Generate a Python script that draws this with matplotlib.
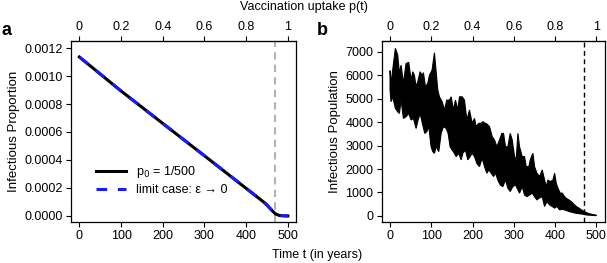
import matplotlib
matplotlib.use("Agg")
import matplotlib.pyplot as plt

plt.rcParams['font.family'] = ['Liberation Sans', 'DejaVu Sans']
plt.rcParams['font.size'] = 9

# ---------------------------------------------------------------------------
# datos
# ---------------------------------------------------------------------------
# panel a: proporcion infecciosa (deterministico)
t_a = [0, 100, 200, 300, 400, 440, 450, 460, 470, 480, 490, 500]
prop_a = [0.001136, 0.000893, 0.000661, 0.000430, 0.000197, 0.000104,
          0.000078, 0.000045, 0.000015, 0.000003, 0.000001, 0.0]

# panel b: poblacion infecciosa (estocastico), picos superiores e inferiores
t_sup = [0, 2.4, 12.9, 18.6, 22.7, 26.7, 32.4, 38.8, 45.3, 51, 55, 59, 63.1,
         67.2, 72.8, 77.7, 80.9, 85.8, 91.4, 95.5, 101.9, 107.6, 111.7, 115.7,
         119.7, 126.2, 131.9, 137.5, 144, 148.1, 153.7, 158.6, 164.2, 168.3,
         174.8, 180.4, 186.1, 192.6, 199, 204.7, 208.7, 215.2, 220.9, 224.9,
         230.6, 234.6, 241.1, 247.6, 253.2, 258.9, 265.4, 271, 275.1, 279.9,
         285.6, 291.3, 296.1, 301.8, 305.8, 309.9, 313.9, 320.4, 326, 330.1,
         336.6, 339.8, 346.3, 350.3, 356, 362.5, 368.9, 374.6, 378.6, 382.7,
         388.3, 394.8, 398.9, 402.9, 407, 412.6, 417.5, 423.1, 427.2, 433.7,
         439.3, 445, 451.5, 457.9, 463.6, 471.7, 479.8, 487.9, 500]
pob_sup = [6200, 5650, 7150, 6860, 6080, 6430, 5650, 6500, 6550, 5790, 6150,
           6000, 5510, 5720, 6150, 6000, 6110, 5510, 5650, 6000, 6220, 6960,
           6150, 5370, 5080, 4870, 4520, 4940, 4940, 5080, 4520, 4940, 4520,
           5080, 5080, 4940, 4090, 4520, 3950, 4160, 3810, 3950, 3950, 4020,
           3950, 3920, 3810, 3380, 3240, 2950, 3240, 3520, 3520, 2950, 2950,
           3520, 3240, 2530, 2390, 3520, 2950, 2530, 2530, 2100, 2100, 2390,
           2670, 2100, 1820, 1680, 1960, 1530, 1250, 1530, 1460, 1530, 1820,
           1390, 1180, 970, 970, 820, 750, 680, 610, 510, 400, 330, 260, 180,
           110, 70, 30]

t_inf = [0, 2.4, 6.5, 12.9, 18.6, 22.7, 26.7, 32.4, 38.8, 45.3, 51, 56.6,
         63.1, 68, 72.8, 79.3, 84.1, 89, 93.9, 99.5, 103.6, 107.6, 111.7,
         118.1, 123.8, 129.4, 135.9, 140.8, 145.6, 150.5, 156.1, 160.2, 166.7,
         172.3, 176.4, 182.8, 188.5, 194.2, 199, 204.7, 210.4, 216.8, 223.3,
         229, 234.6, 239.5, 245.1, 250.8, 255.7, 261.3, 267, 273.5, 279.9,
         285.6, 291.3, 297.7, 304.2, 309.9, 313.9, 320.4, 326, 331.7, 338.2,
         344.7, 350.3, 356, 360.8, 368.9, 374.6, 380.3, 386.7, 393.2, 398.9,
         404.5, 411, 419.1, 427.2, 435.3, 443.4, 451.5, 459.5, 467.6, 475.7,
         483.8, 500]
pob_inf = [5370, 4870, 5080, 4590, 4440, 4370, 4940, 4160, 4230, 4370, 4090,
           4160, 3730, 4090, 4370, 3880, 3520, 3590, 3810, 2950, 2740, 2670,
           2950, 2740, 3520, 3810, 3730, 3520, 2950, 2810, 2670, 2530, 2670,
           2390, 2670, 2810, 2390, 2530, 2670, 2530, 2240, 2100, 2460, 2100,
           1820, 1960, 1820, 1680, 1820, 1530, 1320, 1250, 1530, 1180, 1040,
           1250, 1320, 1110, 970, 1250, 890, 820, 890, 970, 820, 680, 750, 820,
           400, 610, 470, 400, 330, 400, 260, 280, 230, 180, 140, 110, 90, 70,
           40, 30, 10]

t_erradicacion = 470
t_max = 500

# ---------------------------------------------------------------------------
# figura
# ---------------------------------------------------------------------------
fig = plt.figure(figsize=(6.07, 2.63), dpi=100)
ax_a = fig.add_axes([0.117, 0.156, 0.371, 0.688])
ax_b = fig.add_axes([0.629, 0.156, 0.367, 0.688])


def estilo(ax):
    for s in ax.spines.values():
        s.set_linewidth(0.9)
    ax.tick_params(direction='out', length=3.5, width=0.8, pad=2.5,
                   right=False, labelsize=9)
    ax.set_xlim(-20, 520)
    ax.set_xticks([0, 100, 200, 300, 400, 500])
    sec = ax.secondary_xaxis('top', functions=(lambda t: t / t_max,
                                               lambda p: p * t_max))
    sec.set_xticks([0, 0.2, 0.4, 0.6, 0.8, 1])
    sec.set_xticklabels(['0', '0.2', '0.4', '0.6', '0.8', '1'])
    sec.tick_params(direction='out', length=3.5, width=0.8, pad=2.5,
                    labelsize=9)
    return sec


estilo(ax_a)
estilo(ax_b)

# panel a
ax_a.axvline(t_erradicacion, color='#b3b3b3', lw=1.5, dashes=(3.5, 2.5),
             zorder=1)
ax_a.plot(t_a, prop_a, color='black', lw=2.2,
          label=r'p$_0$ = 1/500', zorder=2)
ax_a.plot(t_a, prop_a, color='#1a1aff', lw=2.2, dashes=(3.5, 3.5),
          label='limit case: ε → 0', zorder=3)
ax_a.set_ylim(-0.000043, 0.00125)
ax_a.set_yticks([0, 0.0002, 0.0004, 0.0006, 0.0008, 0.0010, 0.0012])
ax_a.set_yticklabels(['0.0000', '0.0002', '0.0004', '0.0006', '0.0008',
                      '0.0010', '0.0012'])
ax_a.set_ylabel('Infectious Proportion', fontsize=9.5, labelpad=3)
ax_a.legend(loc='lower left', bbox_to_anchor=(0.06, 0.08), frameon=False,
            fontsize=9, handlelength=2.4, handletextpad=0.8,
            labelspacing=0.3)

# panel b: banda entre picos y valles
ax_b.fill(t_sup + t_inf[::-1], pob_sup + pob_inf[::-1], facecolor='black',
          edgecolor='black', lw=0.8, zorder=2)
ax_b.axvline(t_erradicacion, color='black', lw=1.0, dashes=(3.5, 2.5),
             zorder=3)
ax_b.set_ylim(-260, 7460)
ax_b.set_yticks(range(0, 7001, 1000))
ax_b.set_ylabel('Infectious Population', fontsize=9.5, labelpad=3)

# textos comunes
fig.text(0.5, 0.972, 'Vaccination uptake p(t)', ha='center', va='center',
         fontsize=9)
fig.text(0.523, 0.03, 'Time t (in years)', ha='center', va='center',
         fontsize=9)
fig.text(0.002, 0.885, 'a', fontsize=13, fontweight='bold', va='center')
fig.text(0.522, 0.885, 'b', fontsize=13, fontweight='bold', va='center')

fig.savefig('out.png', dpi=100)
